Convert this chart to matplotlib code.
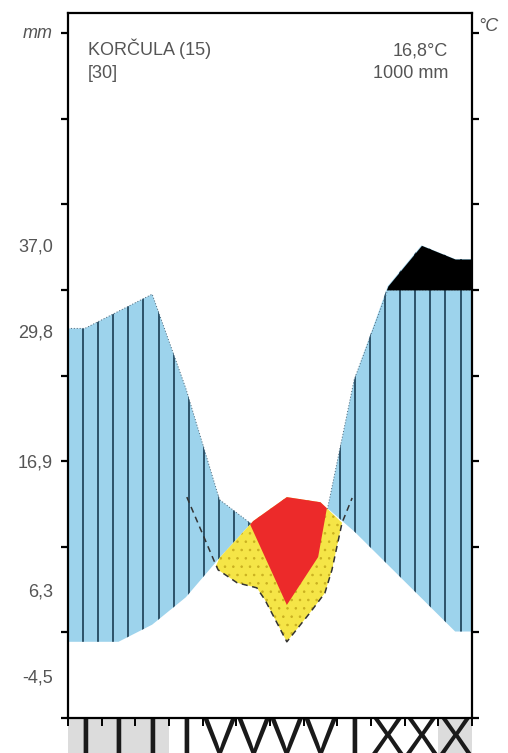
import numpy as np
import matplotlib.pyplot as plt
from matplotlib.path import Path
from matplotlib.patches import Rectangle
from matplotlib.transforms import blended_transform_factory

plt.rcParams['font.family'] = ['Liberation Sans', 'DejaVu Sans']
plt.rcParams['hatch.linewidth'] = 0.6

# monthly climate values
months = ['I', 'II', 'III', 'IV', 'V', 'VI', 'VII', 'VIII', 'IX', 'X', 'XI', 'XII']
temp_c = [8.9, 8.9, 10.9, 14.1, 18.7, 23.0, 25.8, 25.2, 21.8, 17.9, 14.0, 10.1]
prec_mm = [91, 95, 99, 77, 51, 45, 18, 41, 79, 109, 204, 172]
frost_months = [1, 2, 3, 12]

# outline of the dry period (yellow) and of the strong drought (red)
dry_x = [3.53, 4.40, 4.46, 5.02, 5.61, 5.85, 6.50, 7.19, 7.63, 7.84, 8.14, 8.44]
dry_y = [25.8, 17.8, 17.3, 15.8, 15.2, 13.8, 8.9, 12.3, 14.6, 17.3, 22.8, 25.7]
red_x = [5.41, 6.50, 7.43, 7.69]
red_y = [22.6, 13.2, 18.8, 24.5]

station = 'KORČULA (15)'
years = '[30]'
mean_temp = '16,8°C'
annual_prec = '1000 mm'
extremes = ['37,0', '29,8', '16,9', '6,3', '-4,5']
extreme_pos = [55.0, 45.0, 29.8, 14.7, 4.7]

BLUE = '#9dd3ec'
HATCH = '#24485f'
GREY = '#555555'


def prec_scale(mm):
    mm = np.asarray(mm, dtype=float)
    return np.where(mm <= 100, mm / 2, 50 + (mm - 100) / 20)


x_mid = np.arange(12) + 0.5
t = np.array(temp_c)
p = prec_scale(prec_mm)
x_full = np.r_[0, x_mid, 12]
t_full = np.r_[t[0], t, t[-1]]
p_full = np.r_[p[0], p, p[-1]]

fig = plt.figure(figsize=(5.08, 7.53), dpi=100)
ax = fig.add_axes([68 / 508, 35 / 753, 404 / 508, 705 / 753])
ax.set_xlim(0, 12)
ax.set_ylim(0, 82.34)

# humid period
wet = ax.fill_between(x_full, p_full, t_full, where=p_full >= t_full,
                      interpolate=True, color=BLUE, lw=0, zorder=2)
wet_path = Path.make_compound_path(*wet.get_paths())
hatch_x = 0.446 + 0.4485 * np.arange(26)
vl = ax.vlines(hatch_x, 0, 60, color=HATCH, lw=1.3, zorder=3)
vl.set_clip_path(wet_path, ax.transData)
ax.plot(x_full, np.minimum(p_full, 50), color='#4b6475', lw=0.7,
        ls=(0, (1, 2)), zorder=3)

# dry period
sel = (x_mid > dry_x[1]) & (x_mid < dry_x[-2])
ax.fill(list(dry_x[1:-1]) + list(x_mid[sel][::-1]),
        list(dry_y[1:-1]) + list(t[sel][::-1]),
        facecolor='#f5e547', edgecolor='#c9b020', lw=0, hatch='..', zorder=4)
ax.plot(dry_x, dry_y, color='#333333', lw=1.1, ls=(0, (4, 3)), zorder=7)

sel = (x_mid > red_x[0]) & (x_mid < red_x[-1])
ax.fill(list(red_x) + list(x_mid[sel][::-1]),
        list(red_y) + list(t[sel][::-1]),
        color='#ec2a2a', lw=0, zorder=5)

# precipitation above 100 mm
ax.fill_between(x_full, 50, p_full, where=p_full > 50, interpolate=True,
                color='black', lw=0, zorder=6)

for s in ax.spines.values():
    s.set_linewidth(1.6)
    s.set_zorder(8)
ax.set_yticks(range(0, 81, 10))
ax.set_xticks(range(13))
ax.tick_params(axis='y', left=True, right=True, direction='out', length=5,
               width=1.6, labelleft=False)
ax.tick_params(axis='x', direction='out', length=6, width=1.4, labelbottom=False)

# texts
ax.text(0.0495, 0.9404, station, transform=ax.transAxes, fontsize=13,
        color=GREY, va='baseline')
ax.text(0.0495, 0.9078, years, transform=ax.transAxes, fontsize=13,
        color=GREY, va='baseline')
ax.text(0.9406, 0.9404, mean_temp, transform=ax.transAxes, fontsize=13,
        color=GREY, va='baseline', ha='right')
ax.text(0.9406, 0.9078, annual_prec, transform=ax.transAxes, fontsize=13,
        color=GREY, va='baseline', ha='right')
ax.text(-0.037, 80, 'mm', fontsize=13, style='italic', color=GREY,
        ha='right', va='center', transform=blended_transform_factory(ax.transAxes, ax.transData))
ax.text(1.015, 80.8, '°C', fontsize=13, style='italic', color=GREY,
        ha='left', va='center', transform=blended_transform_factory(ax.transAxes, ax.transData))
for lab, y in zip(extremes, extreme_pos):
    ax.text(-0.037, y, lab, fontsize=13, color=GREY, ha='right', va='center',
            transform=blended_transform_factory(ax.transAxes, ax.transData))

# months with frost and month numerals below the axis
bt = blended_transform_factory(ax.transData, fig.transFigure)
for m in frost_months:
    ax.add_patch(Rectangle((m - 1, 0), 1, 35 / 753, transform=bt,
                           color='#dcdcdc', lw=0, clip_on=False, zorder=0))
for xm, lab in zip(x_mid, months):
    ax.text(xm, 0.048, '\n'.join(lab), transform=bt, fontsize=36,
            color='#1a1a1a', ha='center', va='top', clip_on=False)

fig.savefig('out.png', dpi=100)
